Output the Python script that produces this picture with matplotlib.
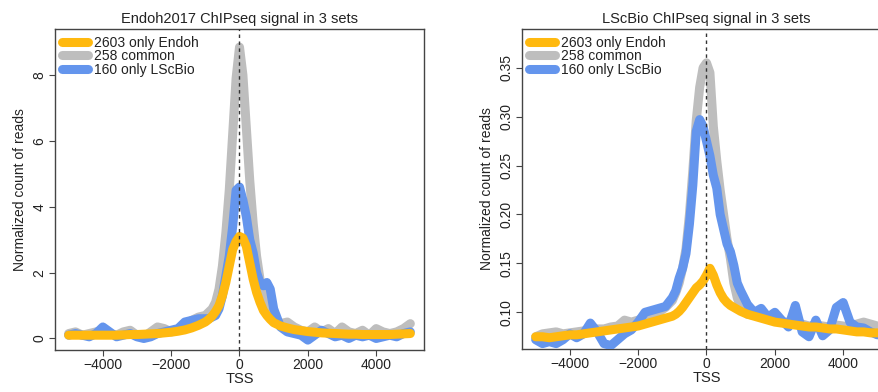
import numpy as np
import matplotlib
matplotlib.use("Agg")
import matplotlib.pyplot as plt

plt.rcParams['font.family'] = ['Liberation Sans', 'DejaVu Sans']

# posiciones respecto al TSS (pb)
tss = np.r_[np.arange(-5000, -1000, 200), np.arange(-1000, 1001, 100), np.arange(1200, 5001, 200)]

# --- Endoh2017 ---
endoh_solo_endoh = [0.1, 0.1, 0.1, 0.1, 0.1, 0.1, 0.1, 0.1, 0.11, 0.12, 0.12, 0.13, 0.14, 0.15, 0.17, 0.19, 0.22, 0.26, 0.32, 0.4,
                    0.5, 0.58, 0.68, 0.82, 1.0, 1.3, 1.7, 2.2, 2.7, 2.95, 3.1, 3.05, 2.8, 2.3, 1.8, 1.4, 1.1, 0.85, 0.7, 0.58, 0.48,
                    0.38, 0.32, 0.27, 0.24, 0.21, 0.19, 0.17, 0.16, 0.15, 0.14, 0.13, 0.13, 0.12, 0.12, 0.12, 0.12, 0.12, 0.13, 0.14, 0.15]
endoh_comun = [0.15, 0.2, 0.1, 0.15, 0.2, 0.25, 0.15, 0.1, 0.2, 0.25, 0.1, 0.05, 0.2, 0.35, 0.3, 0.2, 0.25, 0.4, 0.55, 0.65,
               0.7, 0.8, 0.9, 1.1, 1.5, 2.2, 3.2, 4.5, 6.2, 7.9, 8.85, 8.0, 6.4, 4.8, 3.5, 2.5, 1.8, 1.3, 1.0, 0.78, 0.6,
               0.45, 0.5, 0.35, 0.25, 0.2, 0.35, 0.2, 0.3, 0.15, 0.35, 0.2, 0.15, 0.25, 0.1, 0.3, 0.2, 0.15, 0.2, 0.3, 0.45]
endoh_solo_lscbio = [0.1, 0.15, 0.1, 0.05, 0.15, 0.35, 0.2, 0.05, 0.1, 0.15, 0.05, 0.0, 0.05, 0.15, 0.2, 0.25, 0.3, 0.5, 0.55, 0.6,
                     0.6, 0.6, 0.65, 0.7, 0.9, 1.3, 1.9, 2.5, 3.4, 4.5, 4.6, 4.2, 3.7, 3.0, 2.6, 2.0, 1.7, 1.6, 1.7, 1.5, 0.9,
                     0.35, 0.2, 0.15, 0.1, -0.05, 0.1, 0.25, 0.15, 0.05, 0.1, 0.0, 0.1, 0.05, 0.1, 0.0, 0.05, 0.1, 0.05, 0.15, 0.2]

# --- LScBio ---
lsc_solo_endoh = [0.075, 0.075, 0.074, 0.075, 0.076, 0.077, 0.077, 0.078, 0.079, 0.08, 0.081, 0.082, 0.083, 0.084, 0.085, 0.086, 0.088, 0.09, 0.092, 0.094,
                  0.096, 0.098, 0.101, 0.105, 0.11, 0.115, 0.12, 0.125, 0.128, 0.132, 0.138, 0.145, 0.138, 0.128, 0.12, 0.114, 0.11, 0.107, 0.105, 0.103, 0.101,
                  0.098, 0.096, 0.094, 0.092, 0.09, 0.089, 0.088, 0.087, 0.086, 0.085, 0.085, 0.084, 0.083, 0.083, 0.082, 0.081, 0.08, 0.08, 0.079, 0.079]
lsc_comun = [0.075, 0.078, 0.079, 0.08, 0.078, 0.079, 0.08, 0.081, 0.082, 0.083, 0.083, 0.085, 0.086, 0.092, 0.09, 0.092, 0.095, 0.098, 0.1, 0.105,
             0.112, 0.12, 0.13, 0.145, 0.165, 0.2, 0.245, 0.296, 0.33, 0.35, 0.355, 0.345, 0.29, 0.255, 0.225, 0.2, 0.175, 0.155, 0.13, 0.115, 0.105,
             0.098, 0.097, 0.095, 0.094, 0.092, 0.09, 0.09, 0.088, 0.088, 0.086, 0.087, 0.086, 0.085, 0.087, 0.086, 0.085, 0.088, 0.09, 0.088, 0.086]
lsc_solo_lscbio = [0.072, 0.068, 0.07, 0.068, 0.072, 0.078, 0.074, 0.078, 0.089, 0.08, 0.068, 0.066, 0.072, 0.078, 0.082, 0.09, 0.1, 0.102, 0.104, 0.106,
                   0.115, 0.122, 0.135, 0.145, 0.16, 0.19, 0.23, 0.285, 0.297, 0.29, 0.275, 0.26, 0.24, 0.227, 0.2, 0.185, 0.17, 0.162, 0.148, 0.13, 0.122,
                   0.108, 0.1, 0.104, 0.095, 0.1, 0.092, 0.085, 0.107, 0.08, 0.075, 0.092, 0.076, 0.082, 0.105, 0.11, 0.09, 0.085, 0.084, 0.08, 0.077]

etiquetas = ["2603 only Endoh", "258 common", "160 only LScBio"]
colores = ["#FFB90F", "#BEBEBE", "#6495ED"]

fig = plt.figure(figsize=(8.79, 3.92), dpi=100)
ax1 = fig.add_axes([55 / 879, 1 - 350 / 392, 369 / 879, 321 / 392])
ax2 = fig.add_axes([522 / 879, 1 - 349 / 392, 369 / 879, 320 / 392])


def dibujar(ax, solo_endoh, comun, solo_lsc, titulo, ylim, yticks, fmt):
    estilo = dict(lw=6.5, solid_capstyle='round', solid_joinstyle='round')
    # orden: gris abajo, azul, naranja arriba
    ax.plot(tss, comun, color=colores[1], zorder=2, **estilo)
    ax.plot(tss, solo_lsc, color=colores[2], zorder=3, **estilo)
    ax.plot(tss, solo_endoh, color=colores[0], zorder=4, **estilo)
    ax.axvline(0, color='#333333', ls=(0, (2.5, 2.5)), lw=1, zorder=5)

    ax.set_xlim(-5400, 5400)
    ax.set_ylim(*ylim)
    ax.set_xticks([-4000, -2000, 0, 2000, 4000])
    ax.set_yticks(yticks)
    ax.set_yticklabels([fmt.format(v) for v in yticks], rotation=90, va='center')
    ax.tick_params(labelsize=10, length=4, width=0.8, color='#444444', labelcolor='#222222', pad=2)
    for s in ax.spines.values():
        s.set_color('#444444')
        s.set_linewidth(1.0)
    ax.set_title(titulo, fontsize=10.5, color='#222222', pad=4)
    ax.set_xlabel("TSS", fontsize=10.5, color='#222222', labelpad=0)
    ax.set_ylabel("Normalized count of reads", fontsize=10, color='#222222', labelpad=4)

    handles = [plt.Line2D([], [], color=c, lw=6.5, solid_capstyle='round') for c in colores]
    ax.legend(handles, etiquetas, loc='upper left', frameon=False, fontsize=10,
              handlelength=1.9, handletextpad=0.4, labelspacing=-0.05,
              borderaxespad=0.2, borderpad=0.3, labelcolor='#222222')


dibujar(ax1, endoh_solo_endoh, endoh_comun, endoh_solo_lscbio,
        "Endoh2017 ChIPseq signal in 3 sets", (-0.35, 9.4), [0, 2, 4, 6, 8], "{:g}")
dibujar(ax2, lsc_solo_endoh, lsc_comun, lsc_solo_lscbio,
        "LScBio ChIPseq signal in 3 sets", (0.0625, 0.3896), [0.10, 0.15, 0.20, 0.25, 0.30, 0.35], "{:.2f}")

fig.savefig("out.png", dpi=100)
